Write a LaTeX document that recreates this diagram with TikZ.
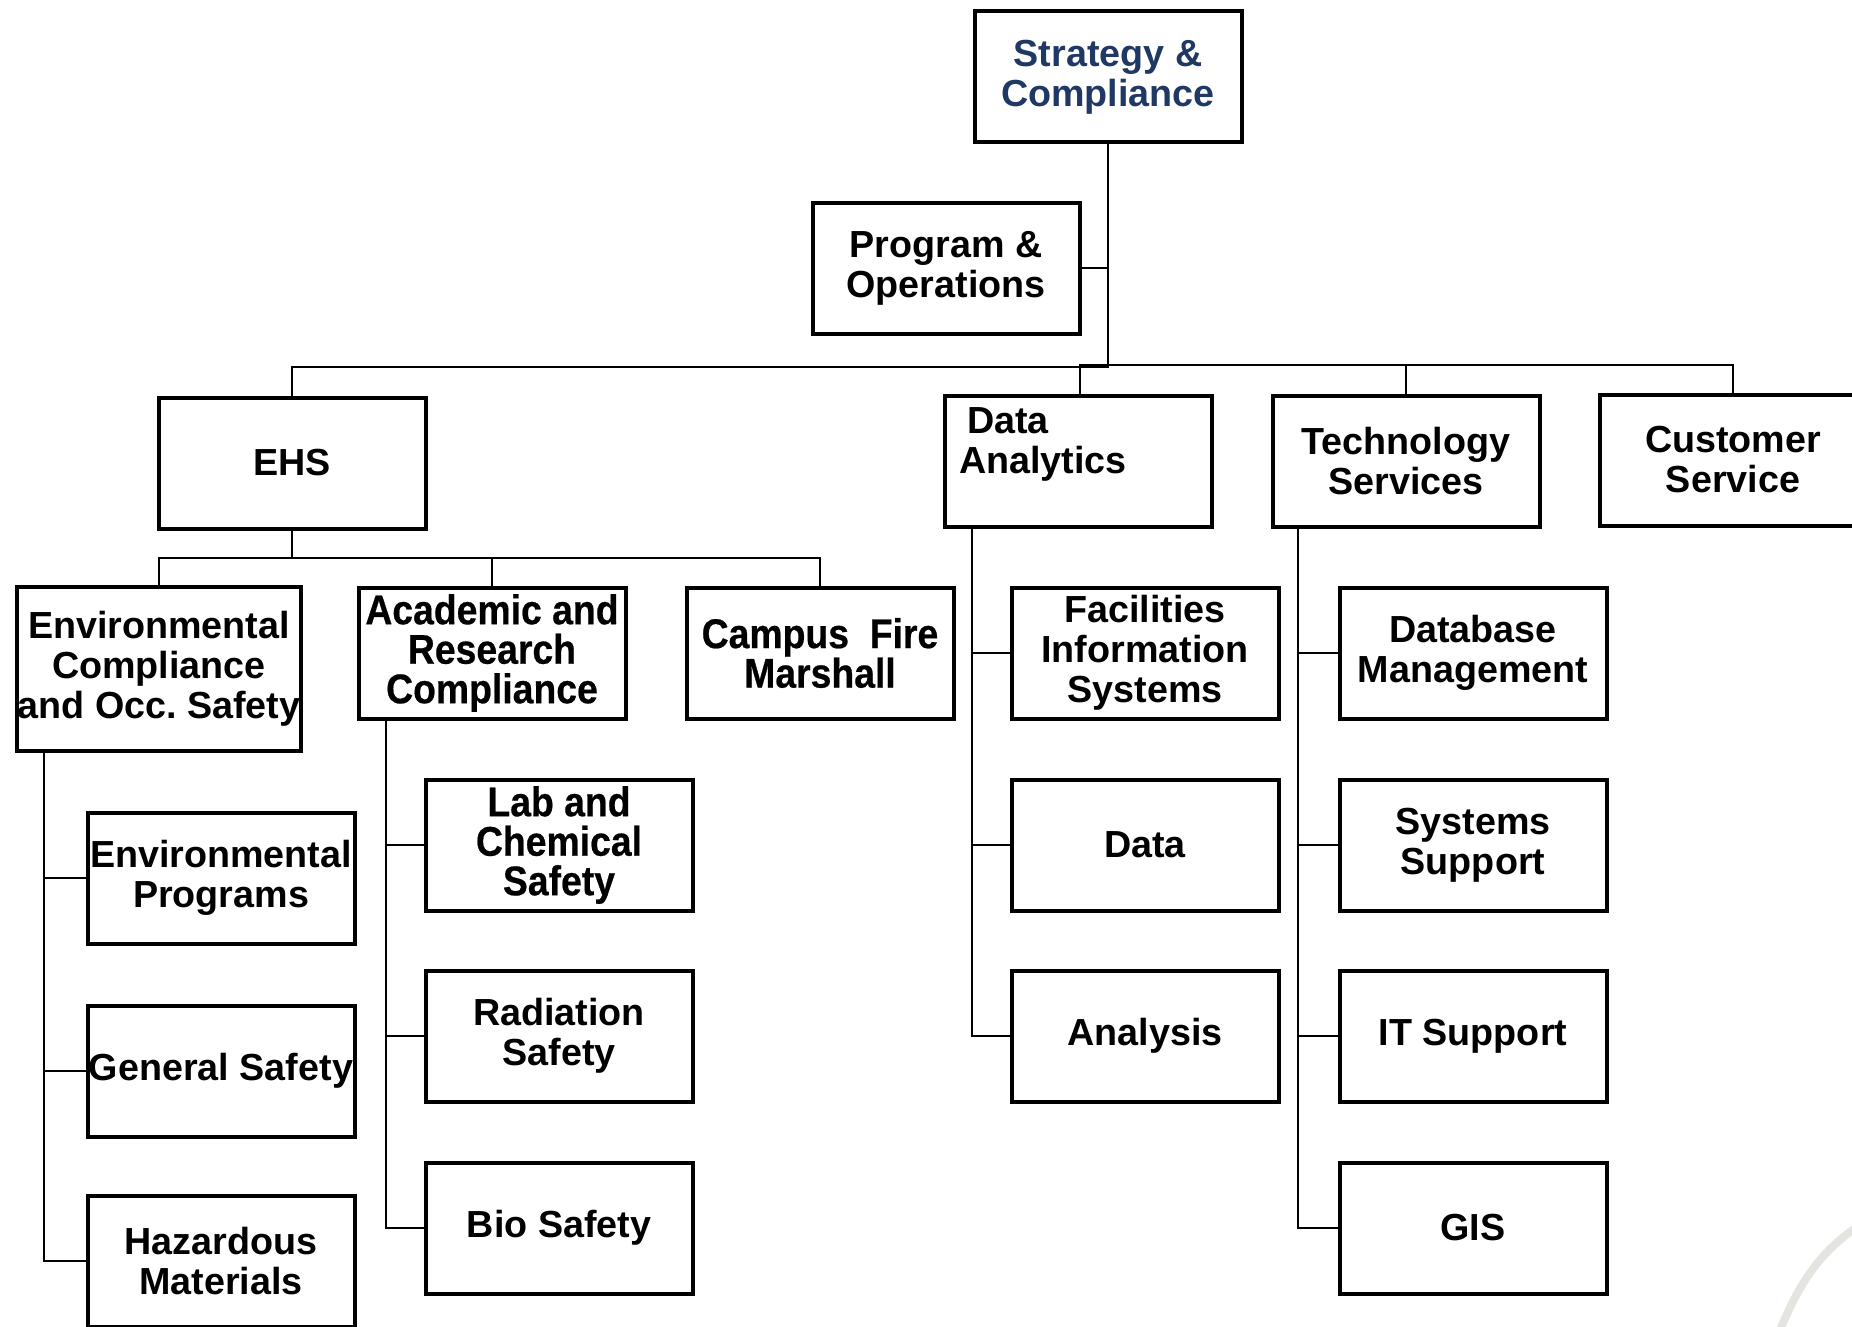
\documentclass[tikz,border=0pt]{standalone}
\usepackage{fontspec}
\setmainfont{Liberation Sans}
\newfontfamily\narrowfont[FakeStretch=0.9, FakeBold=0.5, UprightFont={* Bold}]{Liberation Sans}
\definecolor{navy}{RGB}{31,56,100}
\definecolor{swoosh}{RGB}{228,229,225}
\frenchspacing

\begin{document}
\begin{tikzpicture}[x=1pt, y=-1pt,
  every node/.style={font=\fontsize{37.7}{40}\selectfont\bfseries, align=center, inner sep=0pt},
  unit/.style={draw=black, line width=4pt, minimum width=267pt, minimum height=131pt},
  narrow/.style={font=\fontsize{41.5}{39.5}\selectfont\narrowfont},
  link/.style={line width=2.5pt}]

\useasboundingbox (0,0) rectangle (1852,1327);

% --- Top ---
\node[unit, text=navy] (strat) at (1108,77) {Strategy \&\\Compliance};
\node[unit] (prog) at (946,268) {Program \&\\Operations};

% --- Second row ---
\node[unit] (ehs) at (292,463) {EHS};
\node[unit] (dat) at (1078,461) {};
\node[align=left, anchor=west] (datlbl) at (959,444) {\hspace*{8pt}Data\\Analytics};
\node[unit] (tech) at (1406,461) {Technology\\Services};
\node[unit] (cust) at (1733,460) {Customer\\Service};

% --- EHS units ---
\node[unit, minimum width=284pt, minimum height=164pt] (envc) at (159,669) {Environmental\\Compliance\\and Occ. Safety};
\node[unit, narrow] (acad) at (492,653) {Academic and\\Research\\Compliance};
\node[unit, narrow] (fire) at (820,653) {Campus\ \ Fire\\Marshall};

\node[unit] (envp) at (221,878) {Environmental\\Programs};
\node[unit] (gen) at (221,1071) {General Safety};
\node[unit] (haz) at (221,1261) {Hazardous\\Materials};

\node[unit, narrow] (lab) at (559,845) {Lab and\\Chemical\\Safety};
\node[unit] (rad) at (559,1036) {Radiation\\Safety};
\node[unit] (bio) at (559,1228) {Bio Safety};

% --- Data Analytics units ---
\node[unit] (fis) at (1145,653) {Facilities\\Information\\Systems};
\node[unit] (data) at (1145,845) {Data};
\node[unit] (anal) at (1145,1036) {Analysis};

% --- Technology Services units ---
\node[unit] (dbm) at (1473,653) {Database\\Management};
\node[unit] (sys) at (1473,845) {Systems\\Support};
\node[unit] (its) at (1473,1036) {IT Support};
\node[unit] (gis) at (1473,1228) {GIS};

% --- Connectors ---
\coordinate (bus) at (1108,367);
\coordinate (rbus) at (1108,365);
\coordinate (ehsbus) at (292,558);
\coordinate (envsp) at (44,0);
\coordinate (acadsp) at (386,0);
\coordinate (datsp) at (972,0);
\coordinate (techsp) at (1298,0);

\draw[link] (strat) -- (bus) -| (ehs);
\draw[link] (prog.east) -- (prog.east -| strat.south);
\draw[link] (dat.north -| 1080,0) |- (rbus) -| (cust.north);
\draw[link] (tech.north) -- (tech.north |- rbus);

\draw[link] (envc.north) |- (ehsbus) -| (fire.north);
\draw[link] (ehs.south) -- (ehsbus);
\draw[link] (acad.north) -- (acad.north |- ehsbus);

\draw[link] (envsp |- envc.south) |- (haz.west);
\draw[link] (envsp |- envp.west) -- (envp.west);
\draw[link] (envsp |- gen.west) -- (gen.west);

\draw[link] (acadsp |- acad.south) |- (bio.west);
\draw[link] (acadsp |- lab.west) -- (lab.west);
\draw[link] (acadsp |- rad.west) -- (rad.west);

\draw[link] (datsp |- dat.south) |- (anal.west);
\draw[link] (datsp |- fis.west) -- (fis.west);
\draw[link] (datsp |- data.west) -- (data.west);

\draw[link] (techsp |- tech.south) |- (gis.west);
\draw[link] (techsp |- dbm.west) -- (dbm.west);
\draw[link] (techsp |- sys.west) -- (sys.west);
\draw[link] (techsp |- its.west) -- (its.west);

% --- background swoosh ---
\draw[swoosh, line width=8pt] (1778,1335) .. controls (1800,1280) and (1822,1250) .. (1860,1225);

\end{tikzpicture}
\end{document}
